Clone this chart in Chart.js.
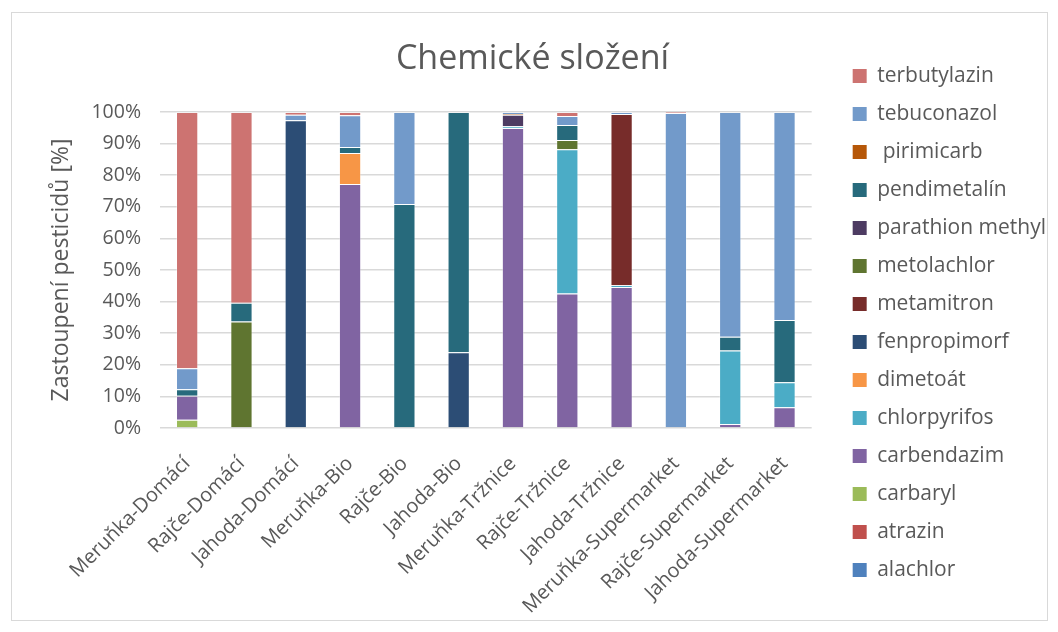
<!DOCTYPE html>
<html>
<head>
<meta charset="utf-8">
<script src="https://cdn.jsdelivr.net/npm/chart.js@4.4.1/dist/chart.umd.min.js"></script>
<style>
  html, body { margin: 0; padding: 0; background: #ffffff; }
  #wrap { position: relative; width: 1058px; height: 632px; }
  #frame { position: absolute; left: 11px; top: 12px; width: 1035px; height: 607px; border: 1px solid #d9d9d9; pointer-events: none; }
  canvas { position: absolute; left: 0; top: 0; }
</style>
</head>
<body>
<div id="wrap">
  <canvas id="chart" width="1058" height="632"></canvas>
  <div id="frame"></div>
</div>
<script>
// Samples (fruit/vegetable and where it was bought)
const categories = [
  'Meruňka-Domácí', 'Rajče-Domácí', 'Jahoda-Domácí',
  'Meruňka-Bio', 'Rajče-Bio', 'Jahoda-Bio',
  'Meruňka-Tržnice', 'Rajče-Tržnice', 'Jahoda-Tržnice',
  'Meruňka-Supermarket', 'Rajče-Supermarket', 'Jahoda-Supermarket'
];

// Share of each pesticide in a sample, in percent (stacked bottom to top)
const alachlor        = [0, 0, 0, 0, 0, 0, 0, 0, 0, 0, 0, 0];
const atrazin         = [0, 0, 0, 0, 0, 0, 0, 0, 0, 0, 0, 0];
const carbaryl        = [2.6, 0, 0, 0, 0, 0, 0, 0, 0, 0, 0, 0];
const carbendazim     = [7.6, 0, 0, 77.2, 0, 0, 94.9, 42.6, 44.6, 0, 1.3, 6.6];
const chlorpyrifos    = [0, 0, 0, 0, 0, 0, 0.6, 45.6, 0.6, 0, 23.2, 7.9];
const dimetoat        = [0, 0, 0, 9.8, 0, 0, 0, 0, 0, 0, 0, 0];
const fenpropimorf    = [0, 0, 97.4, 0, 0, 24.0, 0, 0, 0, 0, 0, 0];
const metamitron      = [0, 0, 0, 0, 0, 0, 0, 0, 54.2, 0, 0, 0];
const metolachlor     = [0, 33.7, 0, 0, 0, 0, 0, 2.9, 0, 0, 0, 0];
const parathionMethyl = [0, 0, 0, 0, 0, 0, 3.6, 0, 0, 0, 0, 0];
const pendimetalin    = [2.1, 5.9, 0, 1.9, 70.9, 76.0, 0, 4.8, 0, 0, 4.4, 19.7];
const pirimicarb      = [0, 0, 0, 0, 0, 0, 0.3, 0, 0, 0, 0, 0];
const tebuconazol     = [6.6, 0, 1.7, 10.1, 29.1, 0, 0.6, 2.8, 0.6, 99.7, 71.1, 65.8];
const terbutylazin    = [81.1, 60.4, 0.9, 1.0, 0, 0, 0, 1.3, 0, 0.3, 0, 0];

const yTicks = [0, 10, 20, 30, 40, 50, 60, 70, 80, 90, 100];

const series = [
  { label: 'alachlor',         data: alachlor,        color: '#4f81bd' },
  { label: 'atrazin',          data: atrazin,         color: '#c0504d' },
  { label: 'carbaryl',         data: carbaryl,        color: '#9bbb59' },
  { label: 'carbendazim',      data: carbendazim,     color: '#8064a2' },
  { label: 'chlorpyrifos',     data: chlorpyrifos,    color: '#4bacc6' },
  { label: 'dimetoát',         data: dimetoat,        color: '#f79646' },
  { label: 'fenpropimorf',     data: fenpropimorf,    color: '#2c4d75' },
  { label: 'metamitron',       data: metamitron,      color: '#772c2a' },
  { label: 'metolachlor',      data: metolachlor,     color: '#5f7530' },
  { label: 'parathion methyl', data: parathionMethyl, color: '#4d3b62' },
  { label: 'pendimetalín',     data: pendimetalin,    color: '#276a7c' },
  { label: ' pirimicarb',      data: pirimicarb,      color: '#b65708' },
  { label: 'tebuconazol',      data: tebuconazol,     color: '#729aca' },
  { label: 'terbutylazin',     data: terbutylazin,    color: '#cd7371' }
];

const textColor = '#595959';
const fontFamily = '"Open Sans", "Noto Sans", sans-serif';

// Moves the legend a little away from the plot area after layout.
const legendGap = {
  id: 'legendGap',
  afterLayout(chart, args, opts) {
    const lg = chart.legend;
    if (lg) { lg.left += opts.shift; lg.right += opts.shift; }
  }
};

new Chart(document.getElementById('chart'), {
  type: 'bar',
  plugins: [legendGap],
  data: {
    labels: categories,
    datasets: series.map(s => ({
      label: s.label,
      data: s.data,
      backgroundColor: s.color,
      borderColor: 'rgba(255,255,255,0.3)',
      borderWidth: 1,
      barPercentage: 0.41,
      categoryPercentage: 1.0
    }))
  },
  options: {
    responsive: false,
    animation: false,
    layout: { padding: { left: 33, right: 26, top: 14, bottom: 0 } },
    plugins: {
      legendGap: { shift: 24 },
      title: {
        display: true,
        text: 'Chemické složení',
        color: textColor,
        font: { family: fontFamily, size: 34, weight: 'normal' },
        padding: { top: 24.6, bottom: 32.6 }
      },
      legend: {
        position: 'right',
        fullSize: true,
        reverse: true,
        labels: {
          color: textColor,
          font: { family: fontFamily, size: 21 },
          boxWidth: 14,
          boxHeight: 14,
          padding: 17,
          generateLabels(chart) {
            return chart.data.datasets.map((ds, i) => ({
              text: ds.label,
              fillStyle: ds.backgroundColor,
              strokeStyle: ds.backgroundColor,
              lineWidth: 0,
              hidden: false,
              datasetIndex: i,
              fontColor: textColor
            }));
          }
        }
      },
      tooltip: { enabled: false }
    },
    scales: {
      x: {
        stacked: true,
        grid: { display: false },
        border: { display: false },
        ticks: {
          color: textColor,
          font: { family: fontFamily, size: 20 },
          autoSkip: false,
          maxRotation: 45,
          minRotation: 45,
          padding: 16
        },
        afterFit(scale) { scale.height = 204; }
      },
      y: {
        stacked: true,
        min: 0,
        max: 100,
        afterBuildTicks(scale) { scale.ticks = yTicks.map(v => ({ value: v })); },
        grid: { color: '#d9d9d9', lineWidth: 1.5, drawTicks: false },
        border: { display: false },
        ticks: {
          color: textColor,
          font: { family: fontFamily, size: 19.5 },
          padding: 19,
          callback: v => v + '%'
        },
        title: {
          display: true,
          text: 'Zastoupení pesticidů [%]',
          color: textColor,
          font: { family: fontFamily, size: 23 },
          padding: { top: 15, bottom: 0 }
        },
        afterFit(scale) { scale.width = 127; }
      }
    }
  }
});
</script>
</body>
</html>
